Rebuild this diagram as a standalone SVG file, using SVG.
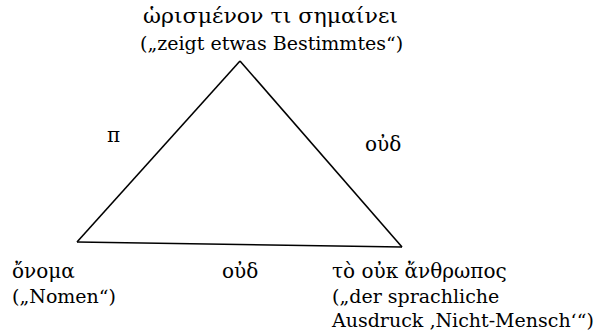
<svg xmlns="http://www.w3.org/2000/svg" width="598" height="336" viewBox="0 0 598 336">
<style>
text{font-family:"DejaVu Serif","Liberation Serif",serif;font-size:19px;fill:#000}
.g{font-size:20px}
.e{fill:none;stroke:#000;stroke-width:1.6}
</style>
<rect width="598" height="336" fill="#fff"/>
<g id="connectors">
<line class="e" x1="240" y1="61" x2="77" y2="242"/>
<line class="e" x1="240" y1="61" x2="402" y2="247"/>
<line class="e" x1="77" y1="242" x2="402" y2="247"/>
<text class="g" x="107" y="142">π</text>
<text class="g" x="365" y="151">οὐδ</text>
<text class="g" x="222" y="278">οὐδ</text>
</g>
<g id="top">
<text class="g" x="143" y="23" textLength="255" lengthAdjust="spacingAndGlyphs">ὡρισμένον τι σημαίνει</text>
<text x="140" y="50">(„zeigt etwas Bestimmtes“)</text>
</g>
<g id="left">
<text class="g" x="12" y="278">ὄνομα</text>
<text x="12" y="303">(„Nomen“)</text>
</g>
<g id="right">
<text class="g" x="332" y="278">τὸ οὐκ ἄνθρωπος</text>
<text x="332" y="303">(„der sprachliche</text>
<text x="332" y="327">Ausdruck ‚Nicht-Mensch‘“)</text>
</g>
</svg>
